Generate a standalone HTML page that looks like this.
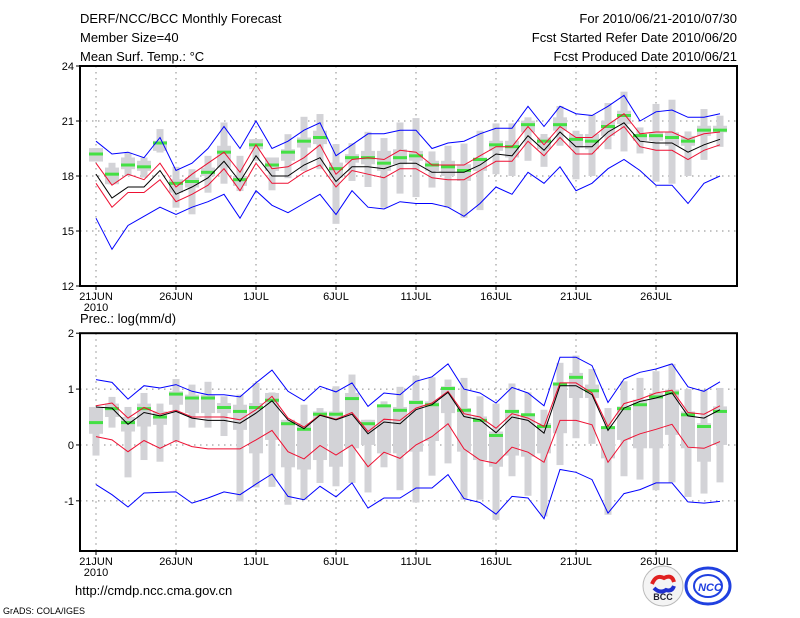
<!DOCTYPE html>
<html><head><meta charset="utf-8"><style>
html,body{margin:0;padding:0;background:#fff;}
svg{display:block;font-family:"Liberation Sans",sans-serif;}
</style></head><body>
<svg id="chart" width="800" height="618" viewBox="0 0 800 618" xmlns="http://www.w3.org/2000/svg">
<g font-size="13" fill="#000">
<text x="80" y="23">DERF/NCC/BCC Monthly Forecast</text>
<text x="80" y="42">Member Size=40</text>
<text x="80" y="61">Mean Surf. Temp.: °C</text>
<text x="737" y="23" text-anchor="end">For 2010/06/21-2010/07/30</text>
<text x="737" y="42" text-anchor="end">Fcst Started Refer Date 2010/06/20</text>
<text x="737" y="61" text-anchor="end">Fcst Produced Date 2010/06/21</text>
</g>
<text x="80" y="323" font-size="13">Prec.: log(mm/d)</text>
<g id="top"></g>
<g id="bot"></g>
<text x="75" y="595" font-size="13">http://cmdp.ncc.cma.gov.cn</text>
<text x="3" y="614" font-size="9">GrADS: COLA/IGES</text>
<g>
<circle cx="663" cy="586" r="20" fill="#f4f4f4" stroke="#bbb"/>
<path d="M652 584 q4 -10 12 -6 q8 -4 10 4" stroke="#e02020" stroke-width="4" fill="none"/>
<path d="M654 588 q6 6 12 2 q6 2 8 -4" stroke="#2030d0" stroke-width="4" fill="none"/>
<text x="663" y="600" font-size="9" font-weight="bold" text-anchor="middle" fill="#223">BCC</text>
</g>
<g>
<ellipse cx="708" cy="586" rx="22" ry="18" fill="none" stroke="#2040e0" stroke-width="3"/>
<ellipse cx="708" cy="586" rx="14" ry="11" fill="none" stroke="#2040e0" stroke-width="2"/>
<text x="710" y="591" font-size="11" font-weight="bold" font-style="italic" text-anchor="middle" fill="#2040e0">NCC</text>
</g>
</svg>
<script>
// Temperature panel data
const days = ['21JUN','26JUN','1JUL','6JUL','11JUL','16JUL','21JUL','26JUL'];
const tTicks = [12,15,18,21,24];
const tMean = [18.1,16.8,17.4,17.4,18.3,17.0,17.4,17.9,18.8,17.7,19.1,18.0,18.0,18.6,19.0,17.7,18.5,18.5,18.4,18.7,18.7,18.2,18.2,18.2,18.6,19.2,19.1,20.2,19.4,20.4,19.6,19.6,20.4,20.9,19.9,19.8,19.8,19.3,19.7,20.0];
const tRedHi = [18.7,17.5,18.1,17.8,18.7,17.4,18.1,18.7,19.3,18.2,19.7,18.4,18.5,19.0,19.7,18.1,18.9,19.0,18.9,19.4,19.3,18.6,18.6,18.6,19.1,19.6,19.6,20.7,19.7,20.7,20.1,20.1,20.8,21.4,20.3,20.4,20.4,20.0,20.3,20.4];
const tRedLo = [17.6,16.3,17.1,17.1,17.8,16.6,17.0,17.5,18.4,17.2,18.7,17.6,17.6,18.2,18.6,17.4,18.3,18.1,17.9,18.4,18.4,17.9,17.8,17.8,18.3,18.8,18.8,19.9,19.1,20.1,19.2,19.2,20.1,20.7,19.6,19.4,19.4,18.9,19.4,19.7];
const tBlueHi = [19.9,19.2,19.3,19.0,20.1,18.3,18.7,19.5,20.7,19.5,21.0,19.5,19.9,20.5,20.9,19.1,19.7,20.3,20.3,20.5,20.5,19.5,19.8,19.9,20.3,20.6,20.6,21.8,20.7,21.8,21.4,21.3,21.8,22.4,21.0,21.5,21.6,21.2,21.2,21.4];
const tBlueLo = [15.7,14.0,15.3,15.8,16.3,15.9,16.3,16.6,17.0,15.7,17.2,16.4,16.0,16.5,17.0,15.9,17.2,16.3,16.2,16.6,16.5,16.5,16.3,15.8,16.5,17.4,17.0,18.2,17.6,18.5,17.2,17.6,18.4,18.9,18.3,17.5,17.5,16.5,17.6,18.0];
const tGreen = [19.2,18.1,18.6,18.5,19.8,17.6,17.7,18.2,19.3,17.8,19.7,18.6,19.3,19.9,20.1,18.4,19.0,19.0,18.7,19.0,19.1,18.6,18.5,18.3,18.9,19.7,19.6,20.8,19.9,20.8,20.0,19.9,20.7,21.3,20.2,20.2,20.1,19.9,20.5,20.5];
const tWhiskLo = [18.79,17.55,18.00,17.91,19.28,16.27,15.91,17.09,17.58,17.18,18.83,17.22,17.88,18.28,18.37,15.39,17.73,17.40,16.27,17.04,16.85,17.37,16.27,15.72,16.14,18.10,18.00,18.83,18.50,19.65,17.82,18.00,19.46,19.34,19.23,17.69,17.58,18.00,18.88,19.59];
const tWhiskHi = [19.52,18.72,19.28,19.01,20.56,18.50,18.37,19.10,20.92,19.10,20.01,19.01,20.28,21.23,21.38,19.74,19.79,20.41,20.07,20.92,21.16,19.34,19.65,19.77,20.47,20.87,20.87,21.20,20.29,21.82,20.47,21.34,21.98,22.60,20.65,21.93,22.16,20.43,21.65,21.29];
const tBoxLo = [18.79,17.55,18.37,18.28,19.37,17.09,17.37,18.00,18.46,17.46,19.46,18.28,18.83,19.55,19.74,17.91,18.73,18.64,18.28,18.64,18.83,18.28,18.00,17.73,18.28,19.37,19.01,20.38,19.46,20.47,19.55,19.46,20.19,20.83,19.92,19.92,19.65,19.65,20.19,20.38];
const tBoxHi = [19.52,18.46,19.01,18.83,19.92,17.82,17.91,18.46,19.65,18.00,20.01,19.01,19.46,20.10,20.47,18.73,19.19,19.37,19.37,19.46,19.37,18.83,18.83,18.64,19.01,19.92,19.92,21.02,20.10,21.20,20.29,20.29,21.02,21.56,20.29,20.38,20.38,20.19,20.74,20.74];
// Precipitation panel data
const pTicks = [-1,0,1,2];
const pMean = [0.68,0.66,0.37,0.58,0.52,0.60,0.48,0.44,0.44,0.39,0.57,0.79,0.45,0.29,0.53,0.45,0.55,0.20,0.41,0.38,0.63,0.72,0.94,0.51,0.45,0.22,0.50,0.44,0.21,1.06,1.06,0.90,0.26,0.66,0.78,0.84,0.93,0.52,0.48,0.63];
const pRedHi = [0.70,0.75,0.48,0.67,0.55,0.62,0.50,0.50,0.50,0.45,0.63,0.87,0.48,0.32,0.54,0.46,0.58,0.24,0.46,0.44,0.66,0.75,0.96,0.56,0.50,0.30,0.56,0.48,0.33,1.11,1.11,0.93,0.33,0.74,0.82,0.93,0.98,0.58,0.55,0.70];
const pRedLo = [0.15,0.09,-0.12,0.08,-0.06,0.08,-0.03,-0.07,-0.07,-0.07,0.09,0.26,-0.12,-0.25,-0.01,-0.18,0.00,-0.39,-0.13,-0.24,0.00,0.15,0.38,-0.07,-0.27,-0.33,-0.04,-0.13,-0.31,0.44,0.44,0.36,-0.31,0.08,0.20,0.28,0.37,-0.04,-0.06,0.06];
const pBlueHi = [1.17,1.12,0.82,1.06,1.02,1.08,0.96,0.90,0.90,0.86,1.11,1.34,0.96,0.79,1.05,0.95,1.11,0.69,0.93,0.90,1.14,1.22,1.45,1.00,0.93,0.75,1.03,0.93,0.70,1.57,1.57,1.42,0.76,1.18,1.30,1.36,1.45,1.04,0.96,1.13];
const pBlueLo = [-0.71,-0.89,-1.11,-0.86,-0.85,-0.84,-1.04,-0.95,-0.84,-0.89,-0.70,-0.52,-0.92,-0.98,-0.74,-0.93,-0.68,-1.13,-0.95,-0.95,-0.77,-0.77,-0.53,-0.96,-1.03,-1.24,-0.92,-0.95,-1.32,-0.44,-0.49,-0.62,-1.22,-0.87,-0.80,-0.68,-0.68,-1.02,-1.04,-1.01];
const pGreen = [0.40,0.65,0.40,0.65,0.50,0.91,0.84,0.84,0.67,0.60,0.67,0.80,0.38,0.28,0.55,0.55,0.83,0.38,0.70,0.62,0.76,0.72,1.01,0.62,0.44,0.17,0.60,0.54,0.33,1.09,1.21,0.97,0.31,0.65,0.72,0.86,0.93,0.54,0.33,0.60];
const pWhiskLo = [-0.19,0.31,-0.58,-0.27,-0.30,0.07,0.31,0.31,0.16,-1.01,-0.76,-0.75,-1.07,-0.98,-0.68,-0.74,-0.68,-0.85,-0.40,-0.81,-1.03,-0.55,-0.33,-0.98,-0.98,-1.34,-0.56,-0.91,-1.28,-0.36,0.12,0.02,-1.25,-0.56,-0.62,-0.81,-0.67,-0.93,-0.87,-0.67];
const pWhiskHi = [0.68,0.86,0.68,0.93,0.74,1.18,1.08,1.13,0.87,0.90,1.11,0.94,0.42,0.72,0.66,1.05,1.26,0.45,0.78,1.04,1.24,1.21,1.17,1.20,0.87,0.74,1.10,0.94,0.63,1.47,1.60,1.36,0.66,1.14,1.20,1.32,1.45,1.00,0.99,1.02];
const pBoxLo = [0.20,0.50,0.24,0.33,0.36,0.72,0.57,0.57,0.57,0.27,-0.15,0.09,-0.40,-0.44,-0.27,-0.39,-0.06,0.00,-0.15,-0.15,-0.12,0.07,0.57,-0.12,-0.27,-0.39,-0.19,-0.21,-0.15,0.21,0.84,0.84,-0.24,0.09,-0.06,-0.06,0.18,-0.06,-0.30,0.00];
const pBoxHi = [0.68,0.74,0.50,0.74,0.60,0.96,0.90,0.90,0.75,0.72,0.75,0.93,0.45,0.39,0.60,0.60,0.93,0.45,0.70,0.68,0.80,0.78,1.05,0.66,0.51,0.24,0.63,0.54,0.39,1.12,1.29,1.08,0.33,0.69,0.81,0.93,0.99,0.60,0.39,0.69];

const NS = 'http://www.w3.org/2000/svg';
const X0 = 80, X1 = 737;
function xDay(i){ return 96 + 16*i; }
function mk(parent, tag, attrs){
  const el = document.createElementNS(NS, tag);
  for (const k in attrs) el.setAttribute(k, attrs[k]);
  parent.appendChild(el);
  return el;
}
function drawPanel(g, top, bottom, vMin, vMax, ticks, D, prefix){
  const yv = v => top + (vMax - v) / (vMax - vMin) * (bottom - top);
  ticks.forEach(t => {
    if (t > vMin && t < vMax) {
      const l = mk(g, 'line', {x1:X0, x2:X1, y1:yv(t), y2:yv(t), stroke:'#888', 'stroke-dasharray':'1.5,4.5', 'stroke-width':1});
      
      
    }
    const tk = mk(g, 'line', {x1:X0-4, x2:X0, y1:yv(t), y2:yv(t), stroke:'#000'});
    
    
    const tx = mk(g, 'text', {x:X0-6, y:yv(t)+4, 'text-anchor':'end', 'font-size':11});
    
    
    tx.textContent = t;
  });
  days.forEach((d, k) => {
    const x = xDay(k*5);
    const l = mk(g, 'line', {x1:x, x2:x, y1:top, y2:bottom, stroke:'#888', 'stroke-dasharray':'1.5,4.5'});
    
    
    const tk = mk(g, 'line', {x1:x, x2:x, y1:bottom, y2:bottom+4, stroke:'#000'});
    
    
    const tx = mk(g, 'text', {x:x, y:bottom+14, 'text-anchor':'middle', 'font-size':11});
    
    
    tx.textContent = d;
  });
  const yr = mk(g, 'text', {x:96, y:bottom+25, 'text-anchor':'middle', 'font-size':11});
  
  
  yr.textContent = '2010';
  D.wLo.forEach((_, i) => {
    const x = xDay(i);
    const w = mk(g, 'rect', {x:x-3.5, y:yv(D.wHi[i]), width:7, height:Math.max(1, yv(D.wLo[i])-yv(D.wHi[i])), fill:'#d3d3d7'});
    
    
    const b = mk(g, 'rect', {x:x-7, y:yv(D.bHi[i]), width:14, height:Math.max(1, yv(D.bLo[i])-yv(D.bHi[i])), fill:'#d3d3d7'});
    
    
  });
  D.green.forEach((v, i) => {
    const r = mk(g, 'rect', {x:xDay(i)-7, y:yv(v)-1.5, width:14, height:3, fill:'#44e044'});
    
    
  });
  const lines = [['blueHi','#0000ff','max-line'],['blueLo','#0000ff','min-line'],['redHi','#ee1133','upper-line'],['redLo','#ee1133','lower-line'],['mean','#000','mean-line']];
  lines.forEach(([k, col, nm]) => {
    const pts = D[k].map((v, i) => xDay(i) + ',' + yv(v).toFixed(1)).join(' ');
    const p = mk(g, 'polyline', {points:pts, fill:'none', stroke:col, 'stroke-width':1});
    
    
  });
  const f = mk(g, 'rect', {x:X0, y:top, width:X1-X0, height:bottom-top, fill:'none', stroke:'#000', 'stroke-width':2});
  
  
}
drawPanel(document.getElementById('top'), 66, 286, 12, 24, tTicks,
  {mean:tMean, redHi:tRedHi, redLo:tRedLo, blueHi:tBlueHi, blueLo:tBlueLo, green:tGreen, wLo:tWhiskLo, wHi:tWhiskHi, bLo:tBoxLo, bHi:tBoxHi}, 'temp');
drawPanel(document.getElementById('bot'), 333.2, 551, -1.898, 2, pTicks,
  {mean:pMean, redHi:pRedHi, redLo:pRedLo, blueHi:pBlueHi, blueLo:pBlueLo, green:pGreen, wLo:pWhiskLo, wHi:pWhiskHi, bLo:pBoxLo, bHi:pBoxHi}, 'precip');
</script>
</body></html>
